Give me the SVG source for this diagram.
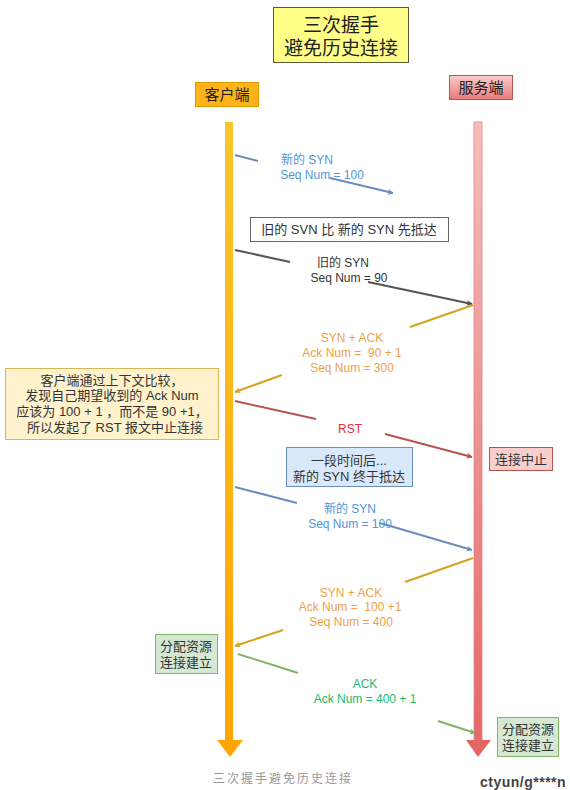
<svg xmlns="http://www.w3.org/2000/svg" width="570" height="790" viewBox="0 0 570 790">
<style>
text{font-family:"Liberation Sans","Noto Sans CJK SC",sans-serif;text-anchor:middle}
.t13{font-size:13px;fill:#333}
.lbl{font-size:12px}
.blue{fill:#4F95D8}
.dark{fill:#333}
.org{fill:#EFA048}
.red{fill:#E0303A}
.grn{fill:#1CB86C}
.ln{fill:none;stroke-width:2}
</style>
<defs>
<linearGradient id="gc" x1="0" y1="0" x2="0" y2="1"><stop offset="0" stop-color="#F8C62C"/><stop offset="1" stop-color="#FFA500"/></linearGradient>
<linearGradient id="gs" x1="0" y1="0" x2="0" y2="1"><stop offset="0" stop-color="#F6BDBD"/><stop offset="1" stop-color="#E56868"/></linearGradient>
<linearGradient id="gsb" x1="0" y1="0" x2="0" y2="1"><stop offset="0" stop-color="#F8CECC"/><stop offset="1" stop-color="#EA7A7A"/></linearGradient>
<marker id="mb" viewBox="0 0 10 10" refX="9" refY="5" markerWidth="6" markerHeight="6" orient="auto" markerUnits="userSpaceOnUse"><path d="M0,0 L10,5 L0,10 L3,5 Z" fill="#6C8EBF"/></marker>
<marker id="mg" viewBox="0 0 10 10" refX="9" refY="5" markerWidth="6" markerHeight="6" orient="auto" markerUnits="userSpaceOnUse"><path d="M0,0 L10,5 L0,10 L3,5 Z" fill="#555"/></marker>
<marker id="mo" viewBox="0 0 10 10" refX="9" refY="5" markerWidth="6" markerHeight="6" orient="auto" markerUnits="userSpaceOnUse"><path d="M0,0 L10,5 L0,10 L3,5 Z" fill="#D6A320"/></marker>
<marker id="mr" viewBox="0 0 10 10" refX="9" refY="5" markerWidth="6" markerHeight="6" orient="auto" markerUnits="userSpaceOnUse"><path d="M0,0 L10,5 L0,10 L3,5 Z" fill="#B85450"/></marker>
<marker id="mgr" viewBox="0 0 10 10" refX="9" refY="5" markerWidth="6" markerHeight="6" orient="auto" markerUnits="userSpaceOnUse"><path d="M0,0 L10,5 L0,10 L3,5 Z" fill="#82B366"/></marker>
</defs>
<rect width="570" height="790" fill="#fff"/>

<g id="title">
<rect x="273.5" y="7.5" width="135" height="55" fill="#FFFF88" stroke="#5a5a3a"/>
<text x="341" y="32" style="font-size:19px;fill:#222">三次握手</text>
<text x="341" y="55" style="font-size:19px;fill:#222">避免历史连接</text>
</g>

<g id="client">
<rect x="195.5" y="82.5" width="63" height="24" fill="#FFB31A" stroke="#D79B00"/>
<text x="227" y="100" style="font-size:15px;fill:#222">客户端</text>
<rect x="225" y="122" width="8" height="618" fill="url(#gc)"/>
<polygon points="217,740 243,740 230,757" fill="#FFA500"/>
</g>

<g id="server">
<rect x="449.5" y="75.5" width="63" height="24" fill="url(#gsb)" stroke="#B85450"/>
<text x="481" y="93" style="font-size:15px;fill:#222">服务端</text>
<rect x="474" y="122" width="8" height="618" fill="url(#gs)" stroke="#D88" stroke-width="0.8"/>
<polygon points="466,740 491,740 478,757" fill="#E56565"/>
</g>

<g id="connectors">
<path class="ln" d="M235,155 L258,161" stroke="#6C8EBF"/>
<path class="ln" d="M330,178 L393,193" stroke="#6C8EBF" marker-end="url(#mb)"/>
<path class="ln" d="M235,250 L290,262" stroke="#555"/>
<path class="ln" d="M368,282 L472,304" stroke="#555" marker-end="url(#mg)"/>
<path class="ln" d="M473,305 L410,327" stroke="#D6A320"/>
<path class="ln" d="M282,375 L235,392" stroke="#D6A320" marker-end="url(#mo)"/>
<path class="ln" d="M235,401 L316,419" stroke="#B85450"/>
<path class="ln" d="M385,434 L472,457" stroke="#B85450" marker-end="url(#mr)"/>
<path class="ln" d="M235,487 L297,503" stroke="#6C8EBF"/>
<path class="ln" d="M380,523 L472,550" stroke="#6C8EBF" marker-end="url(#mb)"/>
<path class="ln" d="M473,558 L405,582" stroke="#D6A320"/>
<path class="ln" d="M283,630 L235,646" stroke="#D6A320" marker-end="url(#mo)"/>
<path class="ln" d="M238,654 L298,673" stroke="#82B366"/>
<path class="ln" d="M438,721 L475,733" stroke="#82B366" marker-end="url(#mgr)"/>
</g>

<g id="labels">
<text class="lbl blue" x="307" y="164">新的 SYN</text>
<text class="lbl blue" x="322" y="179">Seq Num = 100</text>
<text class="lbl dark" x="343" y="267">旧的 SYN</text>
<text class="lbl dark" x="349" y="282">Seq Num = 90</text>
<text class="lbl org" x="352" y="342">SYN + ACK</text>
<text class="lbl org" x="352" y="357" xml:space="preserve">Ack Num =  90 + 1</text>
<text class="lbl org" x="352" y="372">Seq Num = 300</text>
<text class="lbl red" x="350" y="433">RST</text>
<text class="lbl blue" x="350" y="513">新的 SYN</text>
<text class="lbl blue" x="350" y="528">Seq Num = 100</text>
<text class="lbl org" x="351" y="597">SYN + ACK</text>
<text class="lbl org" x="350" y="611" xml:space="preserve">Ack Num =  100 +1</text>
<text class="lbl org" x="351" y="626">Seq Num = 400</text>
<text class="lbl grn" x="365" y="688">ACK</text>
<text class="lbl grn" x="365" y="703">Ack Num = 400 + 1</text>
</g>

<g id="note-old">
<rect x="250.5" y="217.5" width="198" height="24" fill="#fff" stroke="#666"/>
<text class="t13" x="349" y="234">旧的 SVN 比 新的 SYN 先抵达</text>
</g>

<g id="note-client">
<rect x="5.5" y="368.5" width="213" height="71" fill="#FFF2CC" stroke="#D6B656"/>
<text class="t13" x="112" y="385">客户端通过上下文比较，</text>
<text class="t13" x="112" y="400">发现自己期望收到的 Ack Num</text>
<text class="t13" x="112" y="416">应该为 100 + 1 ，而不是 90 +1，</text>
<text class="t13" x="115" y="432">所以发起了 RST 报文中止连接</text>
</g>

<g id="note-later">
<rect x="286.5" y="447.5" width="126" height="39" fill="#DAE8FC" stroke="#6C8EBF"/>
<text class="t13" x="349" y="465">一段时间后...</text>
<text class="t13" x="349" y="481">新的 SYN 终于抵达</text>
</g>

<g id="note-abort">
<rect x="489.5" y="447.5" width="63" height="23" fill="#F8CECC" stroke="#B85450"/>
<text class="t13" x="521" y="464">连接中止</text>
</g>

<g id="note-client-est">
<rect x="155.5" y="634.5" width="62" height="39" fill="#D5E8D4" stroke="#82B366"/>
<text class="t13" x="186" y="651">分配资源</text>
<text class="t13" x="186" y="667">连接建立</text>
</g>

<g id="note-server-est">
<rect x="497.5" y="717.5" width="61" height="39" fill="#D5E8D4" stroke="#82B366"/>
<text class="t13" x="528" y="734">分配资源</text>
<text class="t13" x="528" y="750">连接建立</text>
</g>

<text x="213" y="783" style="font-size:12px;fill:#999;text-anchor:start;letter-spacing:2px">三次握手避免历史连接</text>
<text x="480" y="787" style="font-size:14px;fill:#444;text-anchor:start;font-weight:bold;letter-spacing:0.5px">ctyun/g****n</text>
</svg>
